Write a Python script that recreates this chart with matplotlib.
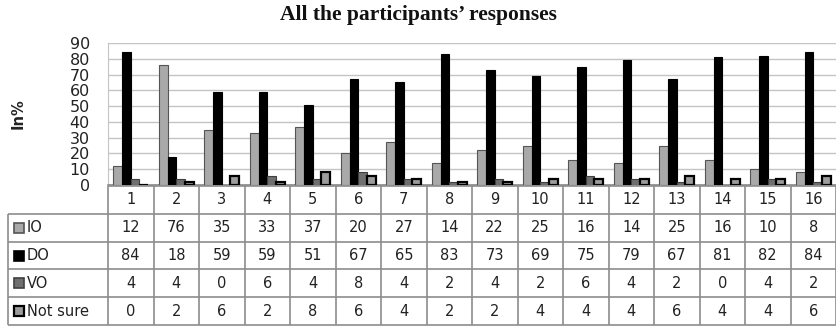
import matplotlib
matplotlib.use("Agg")
import matplotlib.pyplot as plt
from matplotlib.patches import Rectangle
import numpy as np

# Survey items and percentages per response type
items = [str(i) for i in range(1, 17)]
series_names = ["IO", "DO", "VO", "Not sure"]
io = [12, 76, 35, 33, 37, 20, 27, 14, 22, 25, 16, 14, 25, 16, 10, 8]
do = [84, 18, 59, 59, 51, 67, 65, 83, 73, 69, 75, 79, 67, 81, 82, 84]
vo = [4, 4, 0, 6, 4, 8, 4, 2, 4, 2, 6, 4, 2, 0, 4, 2]
not_sure = [0, 2, 6, 2, 8, 6, 4, 2, 2, 4, 4, 4, 6, 4, 4, 6]
yticks = list(range(0, 100, 10))

series = [io, do, vo, not_sure]
styles = [
    dict(color="#a9a9a9", edgecolor="#555555", linewidth=0.8),
    dict(color="#000000", edgecolor="#000000", linewidth=0.8),
    dict(color="#6f6f6f", edgecolor="#404040", linewidth=0.8),
    dict(color="#9c9c9c", edgecolor="#000000", linewidth=1.6),
]

W, H = 836, 327
fig = plt.figure(figsize=(W / 100, H / 100), dpi=100)
fig.patch.set_facecolor("white")

# ---- bar chart ----
x0, x1 = 108, 836
y_top, y_bot = 43, 185
ax = fig.add_axes([x0 / W, 1 - y_bot / H, (x1 - x0) / W, (y_bot - y_top) / H])
x = np.arange(len(items))
bw = 0.19
offsets = (np.arange(4) - 1.5) * bw
for vals, off, st in zip(series, offsets, styles):
    ax.bar(x + off, vals, width=bw, zorder=3, **st)

ax.set_xlim(-0.5, len(items) - 0.5)
ax.set_ylim(0, 90)
ax.set_yticks(yticks)
ax.set_yticklabels([str(t) for t in yticks], fontsize=11.5, color="#222222")
ax.tick_params(axis="y", length=0, pad=13)
ax.set_xticks([])
ax.grid(axis="y", color="#c4c4c4", linewidth=1.0, zorder=0)
ax.set_axisbelow(True)
for s in ["top", "right"]:
    ax.spines[s].set_visible(False)
ax.spines["left"].set_color("#c4c4c4")
ax.spines["bottom"].set_color("#8a8a8a")
ax.spines["bottom"].set_linewidth(1.2)

fig.text(418 / W, 1 - 15 / H, "All the participants\u2019 responses",
         ha="center", va="center", fontsize=15.5, fontweight="bold",
         family="Liberation Serif", color="#111111")
fig.text(18 / W, 1 - 114 / H, "In%", rotation=90, ha="center", va="center",
         fontsize=10.5, fontweight="bold", color="#222222")

# ---- data table ----
col_px = (x1 - x0) / len(items)
lab_cols = (x0 - 8) / col_px
t_top, t_bot = 186, 325
tax = fig.add_axes([8 / W, 1 - t_bot / H, (x1 - 8) / W, (t_bot - t_top) / H])
left = -0.5 - lab_cols
right = len(items) - 0.5
nrows = 1 + len(series)
tax.set_xlim(left, right)
tax.set_ylim(nrows, 0)
tax.axis("off")

lc = "#8c8c8c"
lw = 1.2
tax.hlines(0, -0.5, right, color=lc, lw=lw, clip_on=False)
tax.hlines(np.arange(1, nrows + 1), left, right, color=lc, lw=lw, clip_on=False)
tax.vlines(np.arange(len(items) + 1) - 0.5, 0, nrows, color=lc, lw=lw, clip_on=False)
tax.vlines(left, 1, nrows, color=lc, lw=lw, clip_on=False)

txt = dict(ha="center", va="center", fontsize=10.5, color="#222222")
for j, lab in enumerate(items):
    tax.text(j, 0.5, lab, **txt)
for r, vals in enumerate(series, start=1):
    for j, v in enumerate(vals):
        tax.text(j, r + 0.5, str(v), **txt)

# row labels with colour keys
sw_w = 10 / col_px
sw_h = 10 / ((t_bot - t_top) / nrows)
for r, (name, st) in enumerate(zip(series_names, styles), start=1):
    sx = left + 6 / col_px
    tax.add_patch(Rectangle((sx, r + 0.5 - sw_h / 2), sw_w, sw_h,
                            facecolor=st["color"], edgecolor=st["edgecolor"],
                            linewidth=min(st["linewidth"] + 0.4, 1.6), clip_on=False))
    tax.text(sx + sw_w + 3 / col_px, r + 0.5, name, ha="left", va="center",
             fontsize=10.5, color="#222222")

fig.savefig("out.png", dpi=100, facecolor="white")
